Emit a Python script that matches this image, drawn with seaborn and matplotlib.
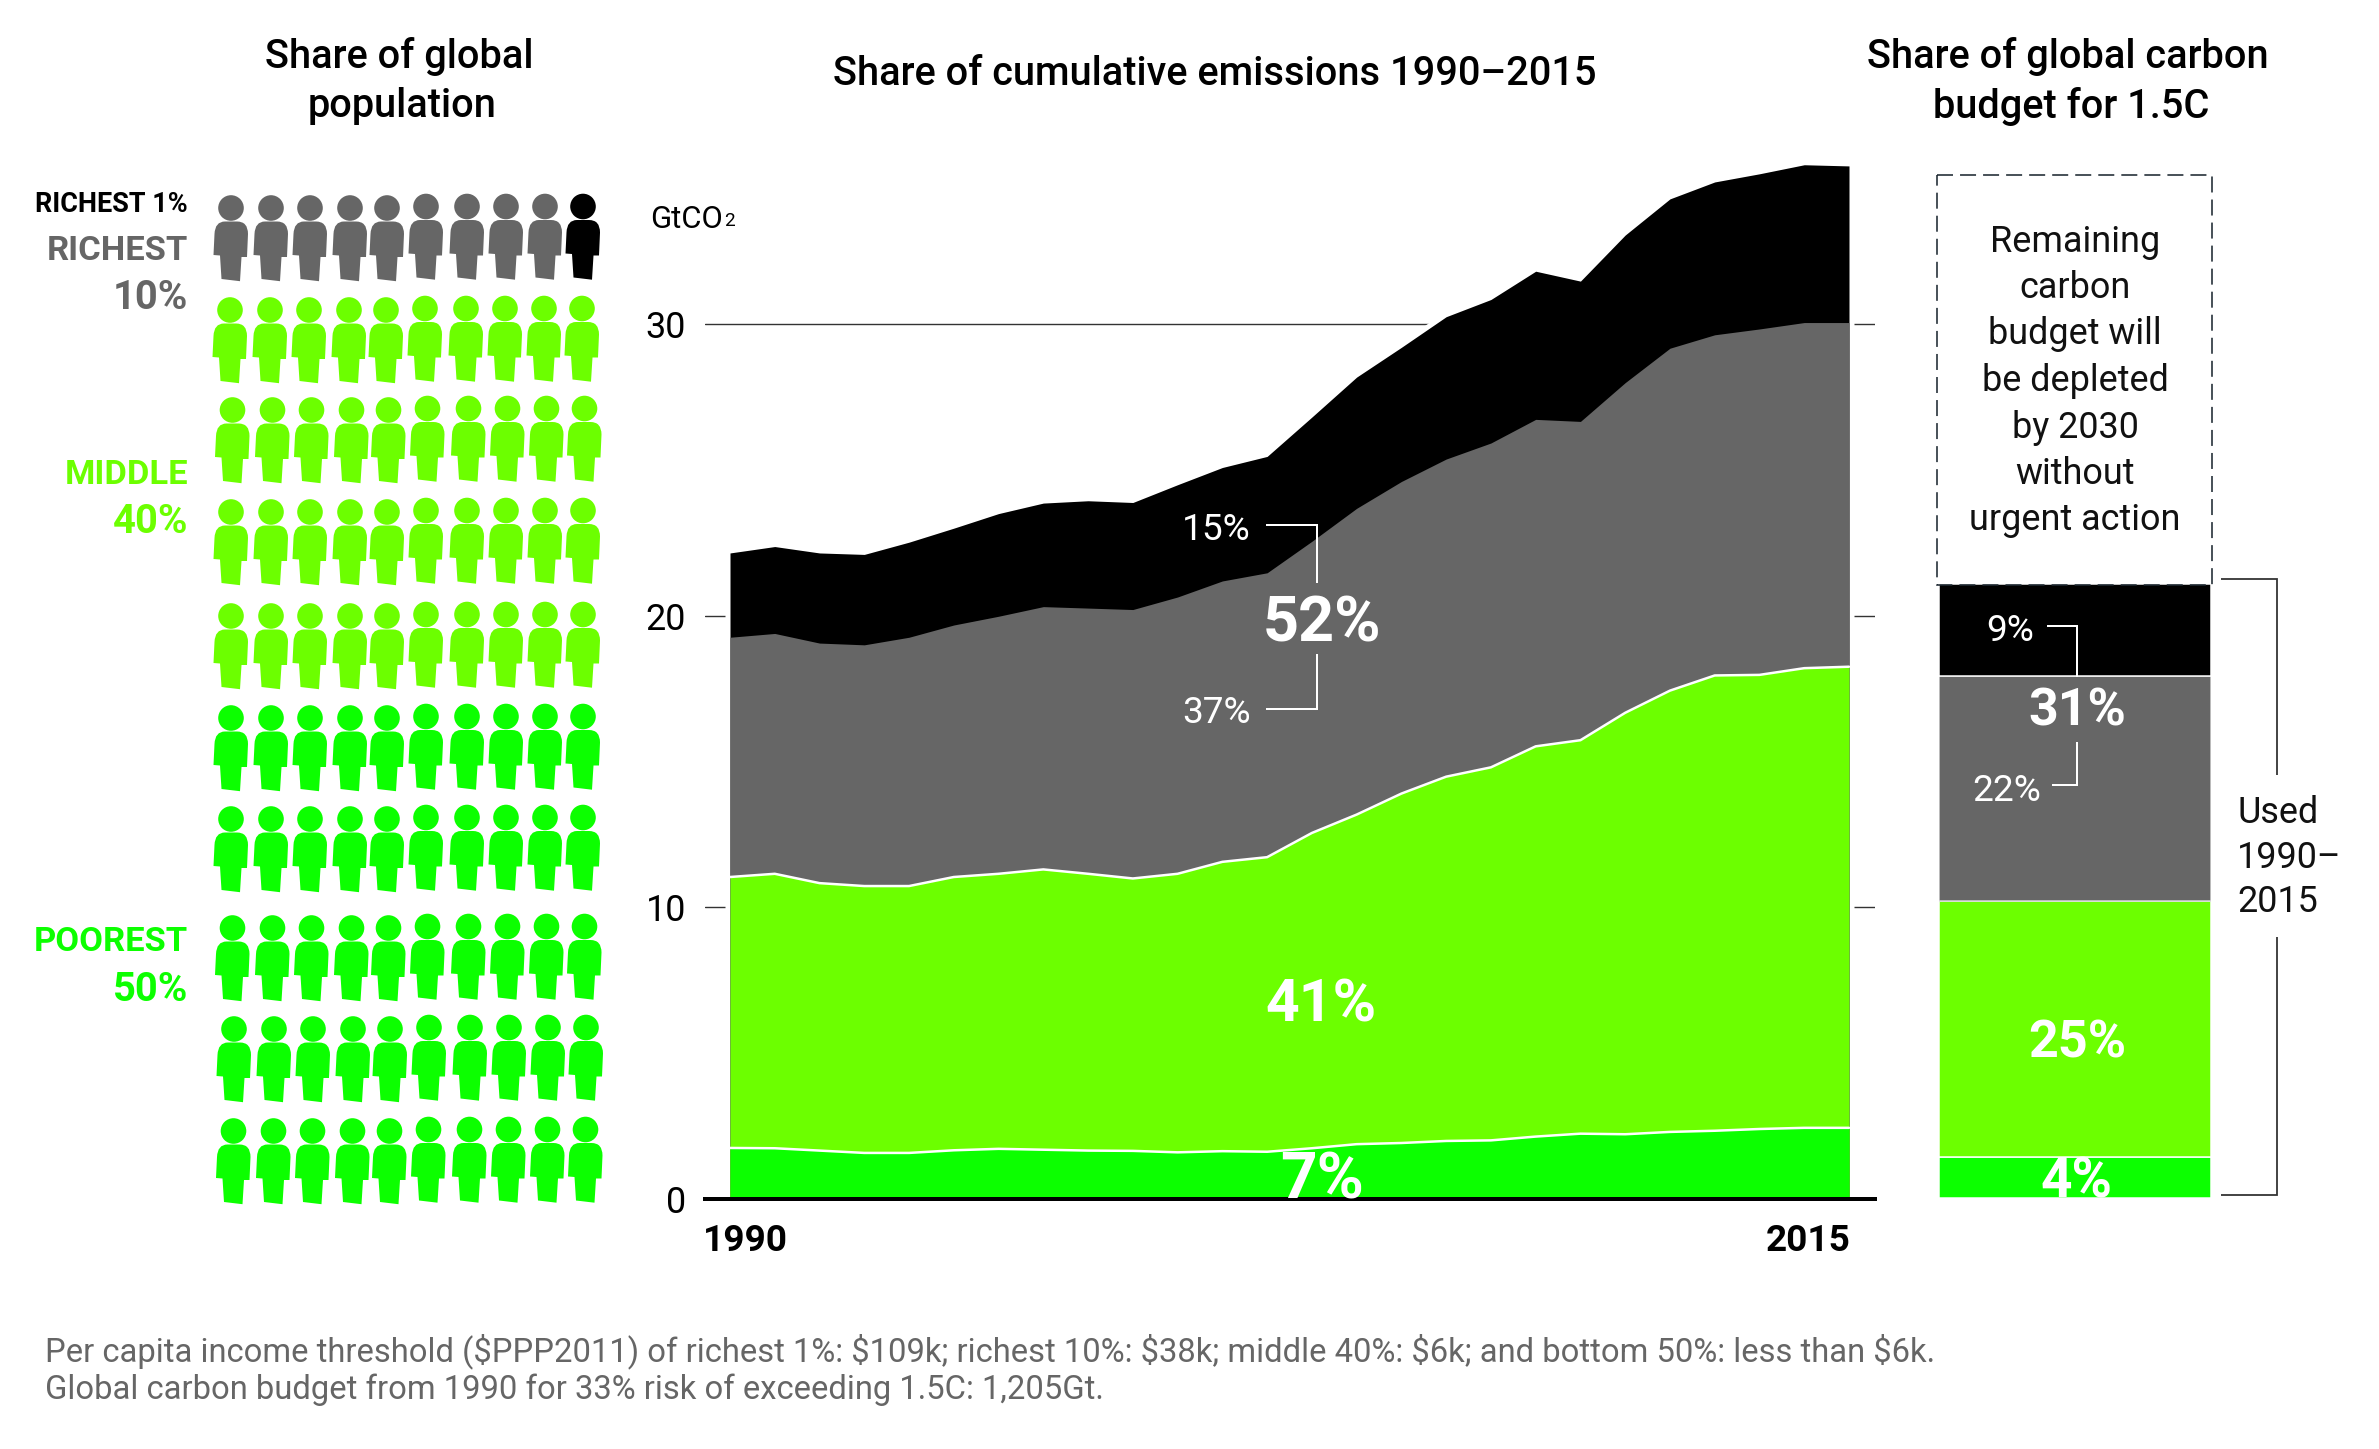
import matplotlib
matplotlib.use("Agg")
import matplotlib.pyplot as plt
from matplotlib.patches import Rectangle
from matplotlib.path import Path
import numpy as np
import pandas as pd
import seaborn as sns

W, H = 2379, 1449
DPI = 100

LIGHT_GREEN = "#6CFF00"
BRIGHT_GREEN = "#0CFF00"
GREY = "#666666"
BLACK = "#000000"

# emissions, cumulative top of each band in GtCO2
years = list(range(1990, 2016))
poorest_top = [1.75, 1.74, 1.66, 1.58, 1.58, 1.67, 1.72, 1.69, 1.66, 1.65, 1.60, 1.64, 1.62,
               1.74, 1.88, 1.92, 1.99, 2.01, 2.14, 2.24, 2.22, 2.30, 2.34, 2.40, 2.44, 2.44]
middle_top = [11.04, 11.15, 10.83, 10.73, 10.73, 11.04, 11.15, 11.30, 11.15, 10.99, 11.15, 11.56, 11.72,
              12.55, 13.18, 13.90, 14.48, 14.80, 15.52, 15.73, 16.67, 17.43, 17.95, 17.97, 18.20, 18.25]
richest_top = [19.26, 19.39, 19.06, 19.00, 19.26, 19.68, 19.98, 20.31, 20.26, 20.21, 20.64, 21.19, 21.47,
               22.55, 23.68, 24.60, 25.37, 25.92, 26.73, 26.66, 27.99, 29.17, 29.63, 29.83, 30.05, 30.05]
top1_top = [22.15, 22.37, 22.15, 22.10, 22.52, 23.00, 23.50, 23.86, 23.94, 23.88, 24.49, 25.08, 25.46,
            26.81, 28.18, 29.20, 30.25, 30.84, 31.81, 31.47, 33.05, 34.29, 34.87, 35.15, 35.46, 35.42]

# carbon budget bar, share in percent
budget_groups = ["Poorest 50%", "Middle 40%", "Richest 10%", "Richest 1%"]
budget_shares = [4, 25, 22, 9]
budget_colors = [BRIGHT_GREEN, LIGHT_GREEN, GREY, BLACK]

# population icons, one row of ten per 10%
icon_groups = ["top1", "richest", "middle", "poorest"]
icon_counts = [1, 9, 40, 50]
icon_colors = {"top1": BLACK, "richest": GREY, "middle": LIGHT_GREEN, "poorest": BRIGHT_GREEN}

y_ticks = [0, 10, 20, 30]
year_labels = ["1990", "2015"]

footnote = [
    "Per capita income threshold ($PPP2011) of richest 1%: $109k; richest 10%: $38k; "
    "middle 40%: $6k; and bottom 50%: less than $6k.",
    "Global carbon budget from 1990 for 33% risk of exceeding 1.5C: 1,205Gt.",
]
remaining_lines = ["Remaining", "carbon", "budget will", "be depleted", "by 2030", "without", "urgent action"]

# hand placed icon grid of the original, in pixels
icon_col_x = [231, 271, 310, 350, 387, 426, 467, 506, 545, 583]
icon_row_y = [208, 310, 410, 512, 616, 718, 819, 928, 1029, 1131]
icon_row_dx = [0, -1, 1.5, 0, 0, 0, 0, 1.5, 3, 2.5]

sns.set_theme(style="white")
plt.rcParams["font.family"] = ["Roboto", "DejaVu Sans"]


def pt(px):
    return px * 72 / DPI


def place_axes(fig, left, top, right, bottom, **kw):
    return fig.add_axes([left / W, (H - bottom) / H, (right - left) / W, (bottom - top) / H], **kw)


def person_marker():
    # icon drawn in pixels around the head centre, y down
    def p(x, y):
        return (x / 43.0, (30.2 - y) / 43.0)

    head = Path.unit_circle()
    head = Path(head.vertices * [12.8 / 43.0, 12.8 / 43.0] + [0, 30.2 / 43.0], head.codes)
    body_pts = [
        (Path.MOVETO, (-17.5, 47)),
        (Path.LINETO, (-16.5, 26)),
        (Path.CURVE3, (-16, 13.5)),
        (Path.CURVE3, (-6, 13.5)),
        (Path.LINETO, (6, 13.5)),
        (Path.CURVE3, (17, 13.5)),
        (Path.CURVE3, (17, 26)),
        (Path.LINETO, (16, 49)),
        (Path.LINETO, (10.5, 49)),
        (Path.LINETO, (9, 73.2)),
        (Path.LINETO, (-9.5, 71)),
        (Path.LINETO, (-11, 47.5)),
        (Path.CLOSEPOLY, (-17.5, 47)),
    ]
    body = Path([p(*v) for _, v in body_pts], [c for c, _ in body_pts])
    return Path.make_compound_path(head, body)


fig = plt.figure(figsize=(W / DPI, H / DPI), dpi=DPI, facecolor="white")

# main area chart
ax = place_axes(fig, 705, 149, 1875, 1199)
df = pd.DataFrame({"year": years, "poorest": poorest_top, "middle": middle_top,
                   "richest": richest_top, "top1": top1_top})
ax.fill_between(df["year"], 0, df["top1"], color="white", lw=pt(10), zorder=1.5)
ax.fill_between(df["year"], 0, df["top1"], color=BLACK, lw=0, zorder=2)
ax.fill_between(df["year"], 0, df["richest"], color=GREY, lw=0, zorder=2.1)
ax.fill_between(df["year"], 0, df["middle"], color=LIGHT_GREEN, lw=0, zorder=2.2)
ax.fill_between(df["year"], 0, df["poorest"], color=BRIGHT_GREEN, lw=0, zorder=2.3)
for col in ["poorest", "middle"]:
    sns.lineplot(data=df, x="year", y=col, color="white", lw=pt(2.5), ax=ax, zorder=2.5, legend=False)
ax.set_xlim(1990 - 25 / 44.76, 1990 + 1145 / 44.76)
ax.set_ylim(0, 36)
ax.set_yticks(y_ticks)
ax.set_xticks([])
ax.set_xlabel("")
ax.set_ylabel("")
ax.yaxis.grid(True, color="#333333", lw=pt(1.4))
ax.set_axisbelow(True)
ax.tick_params(axis="y", length=0, pad=pt(19), labelsize=pt(36), labelcolor="black")
sns.despine(ax=ax, left=True, top=True, right=True)
ax.spines["bottom"].set_linewidth(pt(4))
ax.spines["bottom"].set_color("black")
ax.spines["bottom"].set_zorder(5)

# budget bar
bar = place_axes(fig, 1939, 174.5, 2211, 1198)
bottom = 0
for group, share, color in zip(budget_groups, budget_shares, budget_colors):
    sns.barplot(x=["budget"], y=[share], color=color, saturation=1, width=1, bottom=bottom,
                edgecolor="#d8d8d8" if color == GREY else "white", linewidth=pt(1.5), ax=bar)
    bottom += share
bar.set_xlim(-0.5, 0.5)
bar.set_ylim(0, 100)
bar.axis("off")

# population icons
people = pd.DataFrame({"group": np.repeat(icon_groups, icon_counts)})
people["row"] = [0] * 10 + [r for r in range(1, 10) for _ in range(10)]
people["col"] = [9] + list(range(9)) + [c for _ in range(1, 10) for c in range(10)]
people["x"] = [icon_col_x[c] + icon_row_dx[r] for c, r in zip(people["col"], people["row"])]
people["y"] = [icon_row_y[r] + 30.2 - (1.5 if c >= 5 else 0) for c, r in zip(people["col"], people["row"])]
icons = fig.add_axes([0, 0, 1, 1])
sns.scatterplot(data=people, x="x", y="y", hue="group", palette=icon_colors, marker=person_marker(),
                s=pt(86) ** 2, linewidth=0, legend=False, ax=icons)
icons.set_xlim(0, W)
icons.set_ylim(H, 0)
icons.axis("off")

# everything else is placed in pixels on a full-figure overlay
ov = fig.add_axes([0, 0, 1, 1], zorder=10)
ov.set_xlim(0, W)
ov.set_ylim(H, 0)
ov.axis("off")


def label(x, y, s, size, color="black", ha="center", va="center", weight="normal", **kw):
    return ov.text(x, y, s, fontsize=pt(size), color=color, ha=ha, va=va, fontweight=weight, **kw)


def seg(xs, ys, color="white", lw=2.0):
    ov.plot(xs, ys, color=color, lw=pt(lw), solid_capstyle="butt", solid_joinstyle="miter")


# titles
for x, y, s in [(399, 56, "Share of global"), (402, 106, "population"),
                (1215, 74, "Share of cumulative emissions 1990–2015"),
                (2068, 56, "Share of global carbon"), (2071, 106, "budget for 1.5C")]:
    label(x, y, s, 39.7, weight="medium")

# population labels
label(188, 205, "RICHEST 1%", 27, ha="right", weight="bold")
for y, s, c, size in [(251, "RICHEST", GREY, 34.5), (298, "10%", GREY, 40),
                      (475, "MIDDLE", LIGHT_GREEN, 34.5), (522, "40%", LIGHT_GREEN, 40),
                      (942, "POOREST", BRIGHT_GREEN, 34.5), (990, "50%", BRIGHT_GREEN, 40)]:
    label(188, y, s, size, color=c, ha="right", weight="bold")

# units and year labels
label(650, 219, "GtCO", 31, ha="left")
label(724, 221, "2", 19, ha="left")
label(703, 1241, year_labels[0], 37, ha="left", weight="bold")
label(1851, 1241, year_labels[1], 37, ha="right", weight="bold")

# area annotations
label(1251, 530, "15%", 37, color="white", ha="right")
label(1251, 713, "37%", 37, color="white", ha="right")
seg([1266, 1317, 1317], [525, 525, 583])
seg([1317, 1317, 1266], [654, 709, 709])
label(1322, 624, "52%", 63, color="white", weight="bold")
label(1321, 1005, "41%", 59, color="white", weight="bold")
seven = label(1322, 1181, "7%", 64, color="white", weight="bold")
seven.set_clip_box(ax.bbox)
seven.set_clip_on(True)

# budget annotations
label(2034, 631, "9%", 37, color="white", ha="right")
label(2041, 791, "22%", 37, color="white", ha="right")
seg([2047, 2077, 2077], [626, 626, 677])
seg([2077, 2077, 2052], [742, 785, 785])
label(2077, 712, "31%", 52, color="white", weight="bold")
label(2077, 1044, "25%", 52, color="white", weight="bold")
label(2077, 1182, "4%", 55, color="white", weight="bold")

# dashed box with remaining budget
ov.add_patch(Rectangle((1937, 175), 275, 410, fill=False, ec="#1f2a33", lw=pt(1.6), ls=(0, (10, 4.4))))
for i, s in enumerate(remaining_lines):
    label(2075, 241.5 + i * 46.5, s, 36, color="#111111")

# used bracket
seg([2221, 2277, 2277], [579, 579, 775], color="#333333", lw=1.8)
seg([2277, 2277, 2221], [937, 1195, 1195], color="#333333", lw=1.8)
for y, s in [(813, "Used"), (858, "1990–"), (902, "2015")]:
    label(2237, y, s, 36, ha="left", color="#111111")

# footnote
for y, s in zip([1351, 1390], footnote):
    label(45, y, s, 32.8, color=GREY, ha="left")

fig.savefig("out.png", dpi=DPI, facecolor="white")
